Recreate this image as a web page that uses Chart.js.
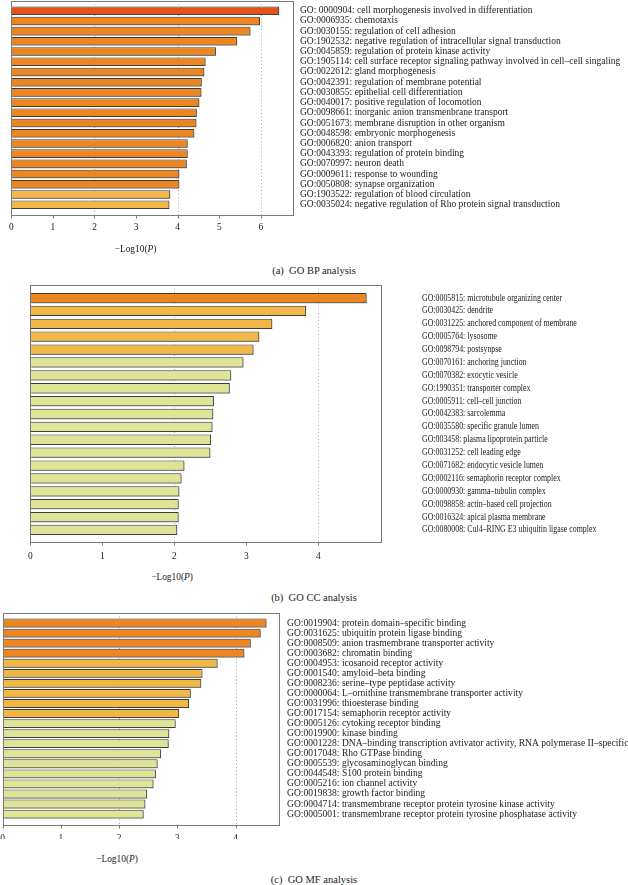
<!DOCTYPE html>
<html>
<head>
<meta charset="utf-8">
<script src="https://cdn.jsdelivr.net/npm/chart.js@4.4.1/dist/chart.umd.min.js"></script>
<style>
  body { margin: 0; background: #fff; width: 628px; height: 885px; position: relative; overflow: hidden;
         font-family: "Liberation Serif", "DejaVu Serif", serif; color: #222; }
  canvas { position: absolute; left: 0; }
  .cap { position: absolute; left: 0; width: 628px; text-align: center; font-size: 10.5px; line-height: 14px; }
  .xt { position: absolute; font-size: 9.4px; transform: translate(-50%, -50%); white-space: nowrap; }
</style>
</head>
<body>
<canvas id="bp" width="628" height="262" style="top:0"></canvas>
<canvas id="cc" width="628" height="290" style="top:278px"></canvas>
<canvas id="mf" width="628" height="245" style="top:605px"></canvas>

<div class="xt" style="left:135.5px;top:249px">&minus;Log10(<i>P</i>)</div>
<div class="cap" style="top:264px">(a)&nbsp; GO BP analysis</div>
<div class="xt" style="left:172px;top:577px">&minus;Log10(<i>P</i>)</div>
<div class="cap" style="top:591px">(b)&nbsp; GO CC analysis</div>
<div class="xt" style="left:117px;top:859px">&minus;Log10(<i>P</i>)</div>
<div class="cap" style="top:873px">(c)&nbsp; GO MF analysis</div>

<script>
// GO BP
const bpLabels = [
  'GO: 0000904: cell morphogenesis involved in differentiation',
  'GO:0006935: chemotaxis',
  'GO:0030155: regulation of cell adhesion',
  'GO:1902532: negative regulation of intracellular signal transduction',
  'GO:0045859: regulation of protein kinase activity',
  'GO:1905114: cell surface receptor signaling pathway involved in cell\u2013cell singaling',
  'GO:0022612: gland morphogenesis',
  'GO:0042391: regulation of membrane potential',
  'GO:0030855: epithelial cell differentiation',
  'GO:0040017: positive regulation of locomotion',
  'GO:0098661: inorganic anion transmenbrane transport',
  'GO:0051673: membrane disruption in other organism',
  'GO:0048598: embryonic morphogenesis',
  'GO:0006820: anion transport',
  'GO:0043393: regulation of protein binding',
  'GO:0070997: neuron death',
  'GO:0009611: response to wounding',
  'GO:0050808: synapse organization',
  'GO:1903522: regulation of blood circulation',
  'GO:0035024: negative regulation of Rho protein signal transduction'
];
const bpValues = [6.44, 5.98, 5.75, 5.43, 4.92, 4.67, 4.64, 4.58, 4.57, 4.52,
                  4.46, 4.45, 4.40, 4.24, 4.24, 4.22, 4.04, 4.04, 3.82, 3.80];

// GO CC
const ccLabels = [
  'GO:0005815: microtubule organizing center',
  'GO:0030425: dendrite',
  'GO:0031225: anchored component of membrane',
  'GO:0005764: lysosome',
  'GO:0098794: postsynpse',
  'GO:0070161: anchoring junction',
  'GO:0070382: exocytic vesicle',
  'GO:1990351: transporter complex',
  'GO:0005911: cell\u2013cell junction',
  'GO:0042383: sarcolemma',
  'GO:0035580: specific granule lumen',
  'GO:003458: plasma lipoprotein particle',
  'GO:0031252: cell leading edge',
  'GO:0071682: endocytic vesicle lumen',
  'GO:0002116: semaphorin receptor complex',
  'GO:0000930: gamma\u2013tubulin complex',
  'GO:0098858: actin\u2013based cell projection',
  'GO:0016324: apical plasma membrane',
  'GO:0080008: Cul4\u2013RING E3 ubiquitin ligase complex'
];
const ccValues = [4.67, 3.83, 3.36, 3.18, 3.10, 2.96, 2.79, 2.77, 2.55, 2.54,
                  2.53, 2.51, 2.50, 2.14, 2.10, 2.07, 2.06, 2.06, 2.04];

// GO MF
const mfLabels = [
  'GO:0019904: protein domain\u2013specific binding',
  'GO:0031625: ubiquitin protein ligase binding',
  'GO:0008509: anion trasmembrane transporter activity',
  'GO:0003682: chromatin binding',
  'GO:0004953: icosanoid receptor activity',
  'GO:0001540: amyloid\u2013beta binding',
  'GO:0008236: serine\u2013type peptidase activity',
  'GO:0000064: L\u2013ornithine transmembrane transporter activity',
  'GO:0031996: thioesterase binding',
  'GO:0017154: semaphorin receptor activity',
  'GO:0005126: cytoking receptor binding',
  'GO:0019900: kinase binding',
  'GO:0001228: DNA\u2013binding transcription avtivator activity, RNA polymerase II\u2013specific',
  'GO:0017048: Rho GTPase binding',
  'GO:0005539: glycosaminoglycan binding',
  'GO:0044548: S100 protein binding',
  'GO:0005216: ion channel activity',
  'GO:0019838: growth factor binding',
  'GO:0004714: transmembrane receptor protein tyrosine kinase activity',
  'GO:0005001: transmembrane receptor protein tyrosine phosphatase activity'
];
const mfValues = [4.53, 4.43, 4.26, 4.15, 3.69, 3.43, 3.41, 3.23, 3.20, 3.03,
                  2.97, 2.86, 2.85, 2.72, 2.66, 2.63, 2.59, 2.48, 2.45, 2.42];

// colour bins by -log10(P)
function binColor(v) {
  if (v >= 6) return '#e2531b';
  if (v >= 4) return '#ec8621';
  if (v >= 3) return '#f2b847';
  return '#e0e497';
}

// frame, dotted grid, bar shadow, term labels
const framePlugin = {
  id: 'frame',
  beforeDatasetsDraw(chart, args, opts) {
    const { ctx, scales: { x } } = chart;
    ctx.save();
    ctx.strokeStyle = '#aaaaaa';
    ctx.lineWidth = 1;
    ctx.setLineDash([1, 2.5]);
    for (let v = 2; v < x.max; v += 2) {
      const px = Math.round(x.getPixelForValue(v)) + 0.5;
      ctx.beginPath();
      ctx.moveTo(px, opts.top);
      ctx.lineTo(px, opts.bottom);
      ctx.stroke();
    }
    ctx.restore();
    ctx.save();
    ctx.shadowColor = 'rgba(70,70,70,0.45)';
    ctx.shadowOffsetX = 1.5;
    ctx.shadowOffsetY = 1.5;
    ctx.shadowBlur = 0;
  },
  afterDatasetsDraw(chart) {
    chart.ctx.restore();
  },
  afterDraw(chart, args, opts) {
    const { ctx, chartArea: a, scales: { x, y } } = chart;
    ctx.save();
    ctx.strokeStyle = '#7a7a7a';
    ctx.lineWidth = 1;
    ctx.strokeRect(Math.round(a.left) + 0.5, opts.top + 0.5,
                   Math.round(a.right) - Math.round(a.left), opts.bottom - opts.top);
    for (let v = 0; v <= x.max; v++) {
      const px = Math.round(x.getPixelForValue(v)) + 0.5;
      ctx.beginPath();
      ctx.moveTo(px, opts.bottom + 0.5);
      ctx.lineTo(px, opts.bottom + 3.5);
      ctx.stroke();
    }
    // category labels on the right, optionally condensed
    ctx.fillStyle = '#222';
    ctx.font = opts.labelSize + 'px "Liberation Serif", serif';
    ctx.textAlign = 'left';
    ctx.textBaseline = 'middle';
    chart.data.labels.forEach((t, i) => {
      ctx.save();
      ctx.translate(opts.labelX, y.getPixelForValue(i));
      ctx.scale(opts.labelSX, 1);
      ctx.fillText(t, 0, 0);
      ctx.restore();
    });
    ctx.restore();
  }
};

function makeChart(id, labels, values, g) {
  return new Chart(document.getElementById(id), {
    type: 'bar',
    data: {
      labels: labels,
      datasets: [{
        data: values,
        backgroundColor: c => binColor(c.raw),
        borderColor: '#3a3a3a',
        borderWidth: 1,
        categoryPercentage: g.cat,
        barPercentage: 1
      }]
    },
    options: {
      indexAxis: 'y',
      responsive: false,
      animation: false,
      events: [],
      layout: { padding: { left: g.left, top: g.areaTop, bottom: g.padBottom, right: 0 } },
      plugins: {
        legend: { display: false },
        tooltip: { enabled: false },
        frame: {
          top: g.frameTop, bottom: g.frameBottom,
          labelX: g.labelX, labelSize: g.labelSize, labelSX: g.labelSX
        }
      },
      scales: {
        x: {
          min: 0,
          max: g.xMax,
          grid: { display: false, drawTicks: false, tickLength: 0 },
          border: { display: false },
          afterFit: s => {
            s.height = g.xHeight;
            s.paddingLeft = 0;
            s.paddingRight = 0;
          },
          ticks: {
            stepSize: 1,
            includeBounds: false,
            maxRotation: 0,
            padding: g.xPad,
            color: '#222',
            font: { family: '"Liberation Serif", serif', size: 9.4 },
            callback: v => Number.isInteger(v) ? v : ''
          }
        },
        y: {
          position: 'right',
          grid: { display: false, drawTicks: false, tickLength: 0 },
          border: { display: false },
          ticks: { display: false },
          afterFit: s => {
            s.width = 628 - g.right;
            s.paddingTop = 0;
            s.paddingBottom = 0;
          }
        }
      }
    },
    plugins: [framePlugin]
  });
}

makeChart('bp', bpLabels, bpValues, {
  left: 11.3, right: 293.3, areaTop: 5.6, padBottom: 22.2, xHeight: 30,
  frameTop: 1, frameBottom: 215, xMax: 6.78, xPad: 11.7, cat: 0.84,
  labelX: 300, labelSize: 9.5, labelSX: 1
});
makeChart('cc', ccLabels, ccValues, {
  left: 30.3, right: 381, areaTop: 13.6, padBottom: 1.6, xHeight: 30,
  frameTop: 7, frameBottom: 264, xMax: 4.87, xPad: 14.1, cat: 0.8,
  labelX: 422, labelSize: 9.4, labelSX: 0.84
});
makeChart('mf', mfLabels, mfValues, {
  left: 2.7, right: 279.3, areaTop: 13, padBottom: 10.9, xHeight: 20,
  frameTop: 8, frameBottom: 220, xMax: 4.75, xPad: 13.4, cat: 0.88,
  labelX: 287, labelSize: 9.55, labelSX: 1
});
</script>
</body>
</html>
